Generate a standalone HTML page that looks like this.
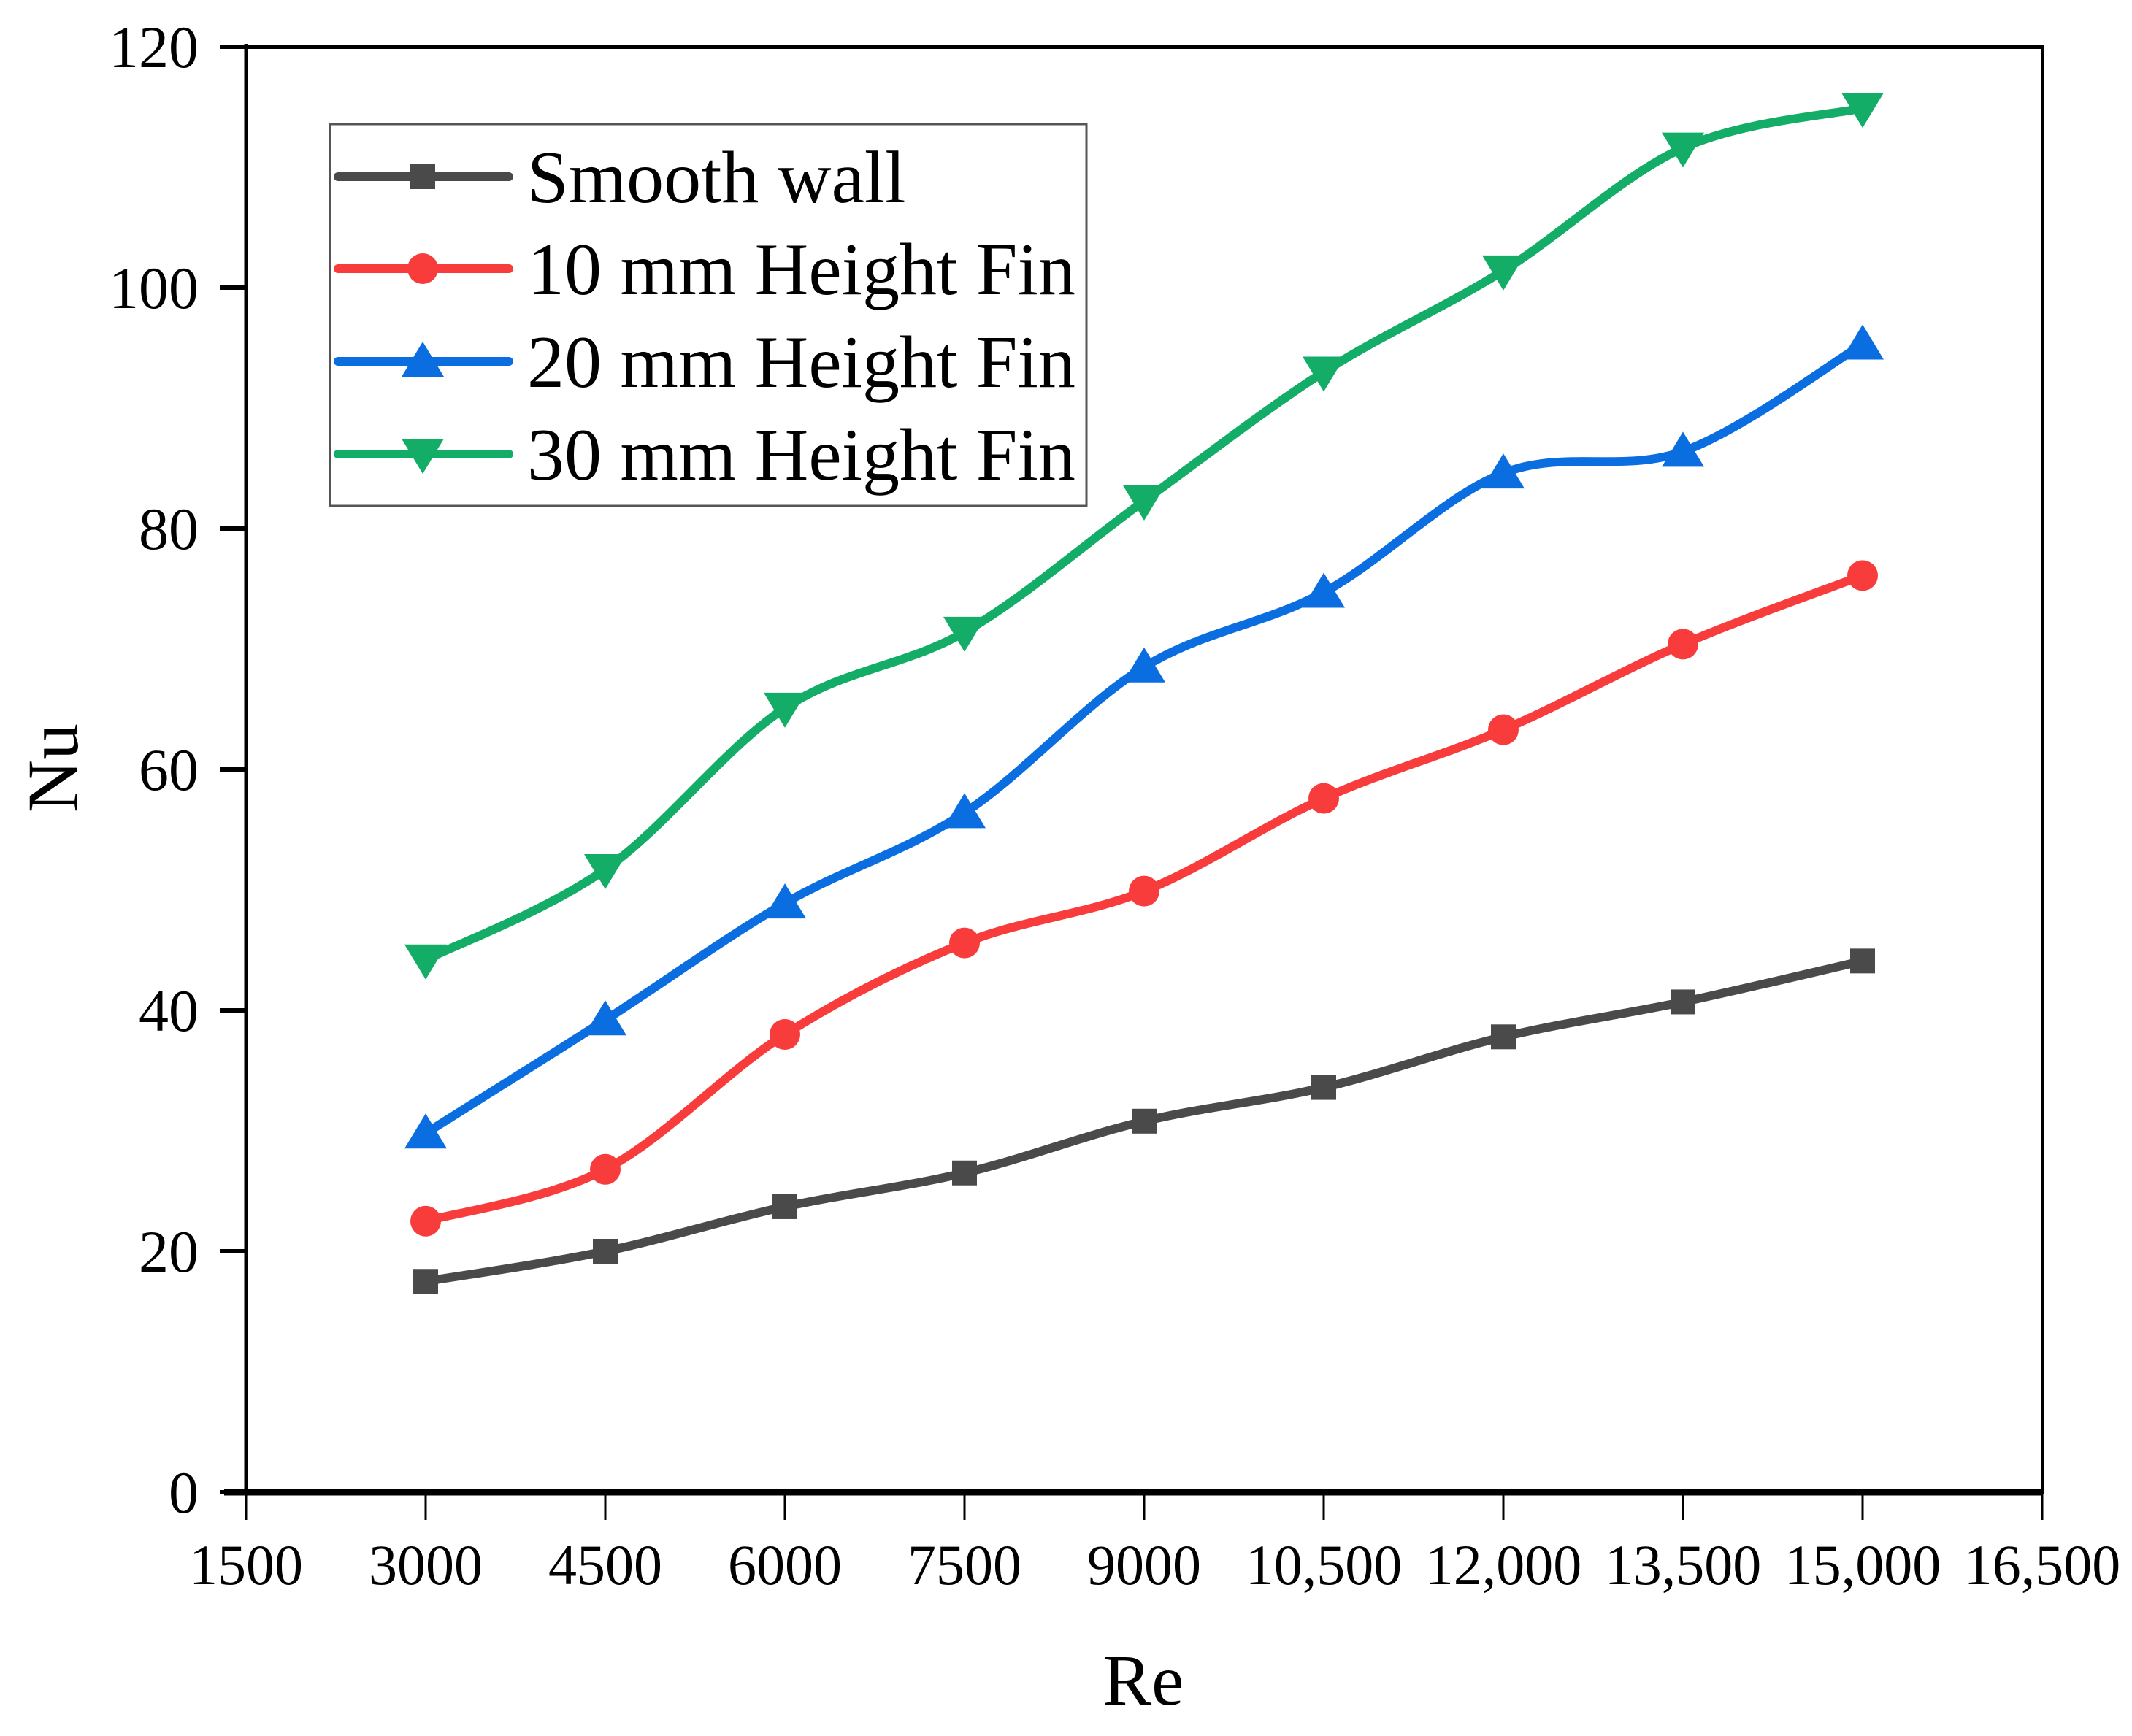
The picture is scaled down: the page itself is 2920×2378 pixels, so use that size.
<!DOCTYPE html>
<html><head><meta charset="utf-8"><style>
html,body{margin:0;padding:0;background:#fff;}
svg{display:block;font-family:"Liberation Serif",serif;}
</style></head><body>
<svg id="chart" width="2920" height="2378" viewBox="0 0 2920 2378" xmlns="http://www.w3.org/2000/svg">
<g id="plot"></g>
</svg>
<script>
const categories = [3000, 4500, 6000, 7500, 9000, 10500, 12000, 13500, 15000];
const smoothWall = [17.5, 20.0, 23.7, 26.5, 30.8, 33.6, 37.8, 40.7, 44.1];
const fin10 = [22.5, 26.8, 38.0, 45.6, 49.9, 57.6, 63.3, 70.4, 76.1];
const fin20 = [29.8, 39.2, 48.9, 56.4, 68.5, 74.7, 84.6, 86.4, 95.3];
const fin30 = [44.2, 51.7, 65.1, 71.4, 82.3, 93.0, 101.4, 111.6, 114.9];
const xTicks = [1500, 3000, 4500, 6000, 7500, 9000, 10500, 12000, 13500, 15000, 16500];
const xTickLabels = ["1500","3000","4500","6000","7500","9000","10,500","12,000","13,500","15,000","16,500"];
const yTicks = [0, 20, 40, 60, 80, 100, 120];
const seriesNames = ["Smooth wall","10 mm Height Fin","20 mm Height Fin","30 mm Height Fin"];

const NS = "http://www.w3.org/2000/svg";
const L = 337, R = 2797, T = 64, B = 2044;
const xMin = 1500, xMax = 16500, yMin = 0, yMax = 120;
const sx = v => L + (v - xMin) / (xMax - xMin) * (R - L);
const sy = v => B - (v - yMin) / (yMax - yMin) * (B - T);
const g = document.getElementById('plot');
function mk(tag, attrs, parent) {
  const e = document.createElementNS(NS, tag);
  for (const k in attrs) e.setAttribute(k, attrs[k]);
  (parent || g).appendChild(e);
  return e;
}
// frame
let fr = mk('rect', {x:L, y:T, width:R-L, height:B-T, fill:'none', stroke:'#000', 'stroke-width':4});


let bx = mk('line', {x1:L-30, y1:B, x2:R, y2:B, stroke:'#000', 'stroke-width':9});


let lx = mk('line', {x1:L, y1:T-4, x2:L, y2:B, stroke:'#000', 'stroke-width':5});


let tx = mk('line', {x1:L, y1:T, x2:R, y2:T, stroke:'#000', 'stroke-width':6});


// x ticks
xTicks.forEach((v, i) => {
  const t = mk('line', {x1:sx(v), y1:B, x2:sx(v), y2:B+38, stroke:'#000', 'stroke-width':3});
  
  
  const tl = mk('text', {x:sx(v), y:2170, 'text-anchor':'middle', 'font-size':78, fill:'#000'});
  tl.textContent = xTickLabels[i];
  
  
});
// y ticks
yTicks.forEach(v => {
  const t = mk('line', {x1:L-36, y1:sy(v), x2:L, y2:sy(v), stroke:'#000', 'stroke-width':6});
  
  
  const tl = mk('text', {x:272, y:sy(v)+28, 'text-anchor':'end', 'font-size':82, fill:'#000'});
  tl.textContent = String(v);
  
  
});
// axis titles
let xt = mk('text', {x:1566, y:2335, 'text-anchor':'middle', 'font-size':100, fill:'#000'});
xt.textContent = 'Re';


let yt = mk('text', {x:0, y:0, 'text-anchor':'middle', 'font-size':100, fill:'#000', transform:'translate(106,1052) rotate(-90)'});
yt.textContent = 'Nu';



function smoothPath(pts) {
  let d = `M${pts[0][0]},${pts[0][1]}`;
  for (let i = 0; i < pts.length - 1; i++) {
    const p0 = pts[i-1] || pts[i], p1 = pts[i], p2 = pts[i+1], p3 = pts[i+2] || p2;
    const c1 = [p1[0] + (p2[0]-p0[0])/6, p1[1] + (p2[1]-p0[1])/6];
    const c2 = [p2[0] - (p3[0]-p1[0])/6, p2[1] - (p3[1]-p1[1])/6];
    d += ` C${c1[0]},${c1[1]} ${c2[0]},${c2[1]} ${p2[0]},${p2[1]}`;
  }
  return d;
}
function marker(type, x, y, color, parent) {
  let m;
  if (type === 'square') m = mk('rect', {x:x-17, y:y-17, width:34, height:34, fill:color}, parent);
  else if (type === 'circle') m = mk('circle', {cx:x, cy:y, r:21, fill:color}, parent);
  else if (type === 'up') m = mk('polygon', {points:`${x},${y-27} ${x-29},${y+21} ${x+29},${y+21}`, fill:color}, parent);
  else m = mk('polygon', {points:`${x},${y+27} ${x-29},${y-21} ${x+29},${y-21}`, fill:color}, parent);
  return m;
}
const series = [smoothWall, fin10, fin20, fin30];
const colors = ['#4a4a4a', '#f83c3c', '#0b6ee0', '#13ad68'];
const markers = ['square', 'circle', 'up', 'down'];
const names = ['series-smooth-wall', 'series-10mm-fin', 'series-20mm-fin', 'series-30mm-fin'];
series.forEach((vals, s) => {
  const grp = mk('g', {});
  
  
  const pts = vals.map((v, i) => [sx(categories[i]), sy(v)]);
  const p = mk('path', {d:smoothPath(pts), fill:'none', stroke:colors[s], 'stroke-width':12, 'stroke-linejoin':'round'}, grp);
  
  
  pts.forEach(pt => {
    const m = marker(markers[s], pt[0], pt[1], colors[s], grp);
    
    
  });
});
// legend
const lg = mk('g', {});


mk('rect', {x:452, y:170, width:1036, height:523, fill:'#fff', stroke:'#555', 'stroke-width':3}, lg);
const rowsY = [242, 368, 495, 622];
seriesNames.forEach((n, s) => {
  const e = mk('g', {}, lg);
  
  
  mk('line', {x1:463, y1:rowsY[s], x2:697, y2:rowsY[s], stroke:colors[s], 'stroke-width':12, 'stroke-linecap':'round'}, e);
  marker(markers[s], 579, rowsY[s], colors[s], e);
  const t = mk('text', {x:722, y:rowsY[s]+35, 'font-size':102, fill:'#000'}, e);
  t.textContent = n;
});
</script>
</body></html>
